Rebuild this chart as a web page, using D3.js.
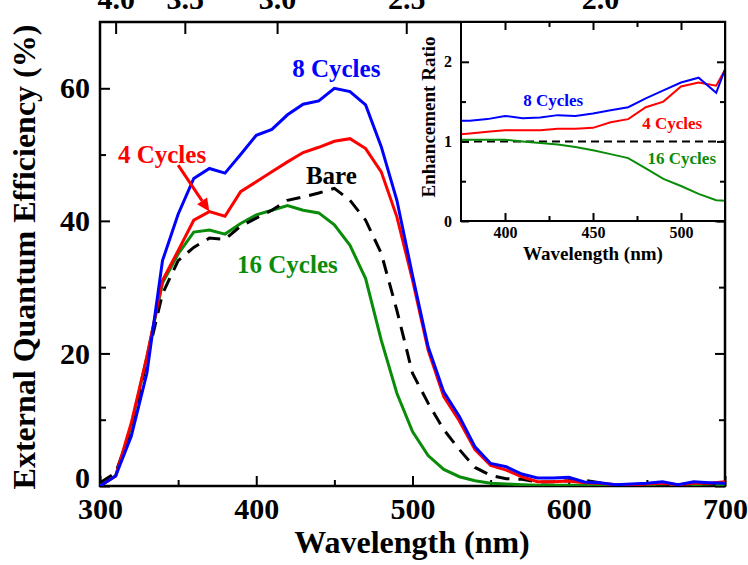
<!DOCTYPE html>
<html>
<head>
<meta charset="utf-8">
<style>
  body { margin: 0; background: #fff; }
  svg text { font-family: "Liberation Serif", "Times New Roman", serif; font-weight: bold; }
</style>
</head>
<body>
<svg width="748" height="565" viewBox="0 0 748 565"></svg>
<script src="https://d3js.org/d3.v7.min.js"></script>
<script>
// main panel: EQE (%) vs wavelength
const wavelength = [300, 310, 320, 330, 340, 350, 360, 370, 380, 390, 400, 410, 420, 430, 440, 450, 460, 470, 480, 490,
  500, 510, 520, 530, 540, 550, 560, 570, 580, 590, 600, 610, 620, 630, 640, 650, 660, 670, 680, 690, 700];
const bare = [0.5, 2, 8.5, 19, 29, 34, 36, 37.4, 37.2, 39.2, 40.4, 41.6, 43.1, 43.6, 44.2, 44.9, 43.1, 40.1, 35.1, 26.5,
  17, 12.5, 8.5, 5.5, 2.8, 1.6, 1.1, 1.0, 0.6, 0.65, 0.8, 0.85, 0.5, 0.05, 0.1, 0.3, 0.3, 0.15, 0.4, 0.3, 0.15];
const cyc4 = [0, 1.5, 9.5, 19.5, 31, 35.5, 40.1, 41.4, 40.7, 44.4, 45.9, 47.4, 48.9, 50.3, 51.1, 52.0, 52.4, 50.9, 47.4, 40.6,
  31.1, 20.5, 13.5, 9.8, 5.5, 3.1, 2.4, 1.4, 0.65, 0.65, 0.75, 0.5, 0.4, 0.2, 0.2, 0.3, 0.4, 0.2, 0.4, 0.4, 0.65];
const cyc8 = [0, 1.5, 7.5, 17, 34, 41, 46.4, 47.9, 47.2, 50.0, 52.9, 53.8, 56.0, 57.6, 58.1, 60.0, 59.5, 57.5, 51.2, 43.1,
  31.8, 21.0, 14.2, 10.5, 5.9, 3.4, 2.9, 1.8, 1.2, 1.2, 1.3, 0.6, 0.5, 0.2, 0.3, 0.4, 0.65, 0.2, 0.65, 0.5, 0.4];
const cyc16 = [0.3, 1.5, 9, 19.5, 30.6, 35, 38.3, 38.6, 38.0, 39.6, 40.9, 41.6, 42.3, 41.6, 41.2, 39.4, 36.3, 31.3, 22, 14,
  8.2, 4.6, 2.5, 1.4, 0.8, 0.4, 0.3, 0.2, 0.1, 0.1, 0.1, 0.1, 0.1, 0.1, 0.1, 0.1, 0.1, 0.1, 0.1, 0.1, 0.1];

// inset: enhancement ratio
const insetWl = [370, 380, 390, 400, 410, 420, 430, 440, 450, 460, 470, 480, 490, 500, 510, 520, 530];
const ratio8 = [1.26, 1.26, 1.28, 1.32, 1.29, 1.30, 1.33, 1.32, 1.35, 1.39, 1.43, 1.54, 1.64, 1.74, 1.80, 1.61, 2.2];
const ratio4 = [1.08, 1.10, 1.12, 1.14, 1.14, 1.14, 1.16, 1.16, 1.17, 1.24, 1.28, 1.43, 1.50, 1.69, 1.74, 1.70, 2.1];
const ratio16 = [1.02, 1.02, 1.02, 1.02, 1.00, 0.98, 0.96, 0.93, 0.89, 0.84, 0.79, 0.66, 0.53, 0.44, 0.34, 0.26, 0.25];

const xTicks = [300, 400, 500, 600, 700];
const xMinor = [350, 450, 550, 650];
const yTicks = [0, 20, 40, 60];
const yMinor = [10, 30, 50];
const eVTicks = [4.0, 3.5, 3.0, 2.5, 2.0];
const insetXTicks = [400, 450, 500];
const insetXMinor = [425, 475];
const insetYTicks = [0, 1, 2];
const insetYMinor = [0.5, 1.5];

const blue = '#0000ff', red = '#ff0000', green = '#0a8c0a';

const svg = d3.select('svg');
const L = 100, R = 725, T = 22, B = 486;
const x = d3.scaleLinear().domain([300, 700]).range([L, R]);
const y = d3.scaleLinear().domain([0, 70]).range([B, T]);

svg.append('defs').append('clipPath').attr('id', 'clipMain')
  .append('rect').attr('x', L).attr('y', T).attr('width', R - L).attr('height', B - T);

function styleAxis (g, size) {
  g.select('.domain').remove();
  g.selectAll('line').attr('stroke', '#000').attr('stroke-width', 2);
  g.selectAll('text').attr('font-size', size + 'px').attr('fill', '#000')
    .style('font-family', '"Liberation Serif", "Times New Roman", serif').style('font-weight', 'bold');
}

// main axes
svg.append('g').attr('transform', `translate(0,${B})`)
  .call(d3.axisBottom(x).tickValues(xTicks).tickSize(-10).tickPadding(12).tickFormat(d3.format('d')))
  .call(g => styleAxis(g, 30));
svg.append('g').attr('transform', `translate(0,${B})`)
  .call(d3.axisBottom(x).tickValues(xMinor).tickSize(-6).tickFormat(''))
  .call(g => styleAxis(g, 30));
svg.append('g').attr('transform', `translate(${L},0)`)
  .call(d3.axisLeft(y).tickValues(yTicks).tickSize(-10).tickPadding(10))
  .call(g => styleAxis(g, 30))
  .call(g => g.selectAll('.tick').filter(d => d === 0).select('text').attr('y', -8));
svg.append('g').attr('transform', `translate(${L},0)`)
  .call(d3.axisLeft(y).tickValues(yMinor).tickSize(-6).tickFormat(''))
  .call(g => styleAxis(g, 30));
svg.append('g').attr('transform', `translate(${R},0)`)
  .call(d3.axisRight(y).tickValues(yTicks).tickSize(-10).tickFormat(''))
  .call(g => styleAxis(g, 30));
svg.append('g').attr('transform', `translate(${R},0)`)
  .call(d3.axisRight(y).tickValues(yMinor).tickSize(-6).tickFormat(''))
  .call(g => styleAxis(g, 30));
// top axis: photon energy (eV)
const xE = d3.scaleLinear().domain([1240 / 300, 1240 / 700]).range([L, R]);
const xTop = d => x(1240 / d);
svg.append('g').attr('transform', `translate(0,${T})`)
  .call(d3.axisTop(d3.scaleLinear().domain([300, 700]).range([L, R]))
    .tickValues(eVTicks.map(e => 1240 / e)).tickSize(-12).tickPadding(13)
    .tickFormat((d, i) => d3.format('.1f')(eVTicks[i])))
  .call(g => styleAxis(g, 30));

svg.append('rect').attr('x', L).attr('y', T).attr('width', R - L).attr('height', B - T)
  .attr('fill', 'none').attr('stroke', '#000').attr('stroke-width', 2.5);

// curves
const line = d3.line().x((d, i) => x(wavelength[i])).y(d => y(d));
const gLines = svg.append('g').attr('clip-path', 'url(#clipMain)');
gLines.append('path').datum(cyc16).attr('d', line).attr('fill', 'none').attr('stroke', green).attr('stroke-width', 3);
gLines.append('path').datum(bare).attr('d', line).attr('fill', 'none').attr('stroke', '#000').attr('stroke-width', 3)
  .attr('stroke-dasharray', '14,9');
gLines.append('path').datum(cyc4).attr('d', line).attr('fill', 'none').attr('stroke', red).attr('stroke-width', 3);
gLines.append('path').datum(cyc8).attr('d', line).attr('fill', 'none').attr('stroke', blue).attr('stroke-width', 3);

// labels
const labels = [
  { t: '8 Cycles', wl: 423, v: 61.7, c: blue },
  { t: '4 Cycles', wl: 311.5, v: 48.7, c: red },
  { t: 'Bare', wl: 431.8, v: 45.5, c: '#000' },
  { t: '16 Cycles', wl: 387.7, v: 32.1, c: green }
];
svg.selectAll('.lbl').data(labels).join('text').attr('class', 'lbl')
  .attr('x', d => x(d.wl)).attr('y', d => y(d.v)).attr('fill', d => d.c)
  .attr('font-size', '25px').text(d => d.t);

// arrow to the 4 cycles curve
const a0 = [x(350), y(48.4)], a1 = [x(370), y(41.4)];
const ang = Math.atan2(a1[1] - a0[1], a1[0] - a0[0]);
const headLen = 13, headW = 6;
const base = [a1[0] - headLen * Math.cos(ang), a1[1] - headLen * Math.sin(ang)];
svg.append('line').attr('x1', a0[0]).attr('y1', a0[1]).attr('x2', base[0]).attr('y2', base[1])
  .attr('stroke', red).attr('stroke-width', 3);
svg.append('path')
  .attr('d', `M${a1}L${base[0] + headW * Math.sin(ang)},${base[1] - headW * Math.cos(ang)}L${base[0] - headW * Math.sin(ang)},${base[1] + headW * Math.cos(ang)}Z`)
  .attr('fill', red);

// axis titles
svg.append('text').attr('transform', 'translate(35,257) rotate(-90)').attr('text-anchor', 'middle')
  .attr('font-size', '32px').text('External Quantum Efficiency (%)');
svg.append('text').attr('x', 412).attr('y', 553).attr('text-anchor', 'middle')
  .attr('font-size', '32px').text('Wavelength (nm)');

// ---- inset
const iL = 461, iR = 725, iT = 22, iB = 221;
const ix = d3.scaleLinear().domain([375, 525]).range([iL, iR]);
const iy = d3.scaleLinear().domain([0, 2.5]).range([iB, iT]);
const gi = svg.append('g');
svg.select('defs').append('clipPath').attr('id', 'clipInset')
  .append('rect').attr('x', iL).attr('y', iT).attr('width', iR - iL).attr('height', iB - iT);
gi.append('rect').attr('x', iL).attr('y', iT).attr('width', iR - iL).attr('height', iB - iT).attr('fill', '#fff');

gi.append('g').attr('transform', `translate(0,${iB})`)
  .call(d3.axisBottom(ix).tickValues(insetXTicks).tickSize(-8).tickPadding(6))
  .call(g => styleAxis(g, 16));
gi.append('g').attr('transform', `translate(0,${iB})`)
  .call(d3.axisBottom(ix).tickValues(insetXMinor).tickSize(-5).tickFormat(''))
  .call(g => styleAxis(g, 16));
gi.append('g').attr('transform', `translate(0,${iT})`)
  .call(d3.axisTop(ix).tickValues(insetXTicks).tickSize(-8).tickFormat(''))
  .call(g => styleAxis(g, 16));
gi.append('g').attr('transform', `translate(0,${iT})`)
  .call(d3.axisTop(ix).tickValues(insetXMinor).tickSize(-5).tickFormat(''))
  .call(g => styleAxis(g, 16));
gi.append('g').attr('transform', `translate(${iL},0)`)
  .call(d3.axisLeft(iy).tickValues(insetYTicks).tickSize(-8).tickPadding(9).tickFormat(d3.format('d')))
  .call(g => styleAxis(g, 16));
gi.append('g').attr('transform', `translate(${iL},0)`)
  .call(d3.axisLeft(iy).tickValues(insetYMinor).tickSize(-5).tickFormat(''))
  .call(g => styleAxis(g, 16));
gi.append('g').attr('transform', `translate(${iR},0)`)
  .call(d3.axisRight(iy).tickValues(insetYTicks).tickSize(-8).tickFormat(''))
  .call(g => styleAxis(g, 16));
gi.append('g').attr('transform', `translate(${iR},0)`)
  .call(d3.axisRight(iy).tickValues(insetYMinor).tickSize(-5).tickFormat(''))
  .call(g => styleAxis(g, 16));

const iline = d3.line().x((d, i) => ix(insetWl[i])).y(d => iy(d));
const gil = gi.append('g').attr('clip-path', 'url(#clipInset)');
gil.append('line').attr('x1', iL).attr('x2', iR).attr('y1', iy(1)).attr('y2', iy(1))
  .attr('stroke', '#000').attr('stroke-width', 2).attr('stroke-dasharray', '8,5');
gil.append('path').datum(ratio16).attr('d', iline).attr('fill', 'none').attr('stroke', green).attr('stroke-width', 2);
gil.append('path').datum(ratio4).attr('d', iline).attr('fill', 'none').attr('stroke', red).attr('stroke-width', 2);
gil.append('path').datum(ratio8).attr('d', iline).attr('fill', 'none').attr('stroke', blue).attr('stroke-width', 2);

gi.append('rect').attr('x', iL).attr('y', iT).attr('width', iR - iL).attr('height', iB - iT)
  .attr('fill', 'none').attr('stroke', '#000').attr('stroke-width', 2);

const insetLabels = [
  { t: '8 Cycles', wl: 410.3, v: 1.445, c: blue },
  { t: '4 Cycles', wl: 478, v: 1.155, c: red },
  { t: '16 Cycles', wl: 481, v: 0.714, c: green }
];
gi.selectAll('.ilbl').data(insetLabels).join('text').attr('class', 'ilbl')
  .attr('x', d => ix(d.wl)).attr('y', d => iy(d.v)).attr('fill', d => d.c)
  .attr('font-size', '17px').text(d => d.t);

gi.append('text').attr('transform', 'translate(435,117) rotate(-90)').attr('text-anchor', 'middle')
  .attr('font-size', '19px').text('Enhancement Ratio');
gi.append('text').attr('x', 593).attr('y', 260).attr('text-anchor', 'middle')
  .attr('font-size', '19px').text('Wavelength (nm)');
</script>
</body>
</html>
